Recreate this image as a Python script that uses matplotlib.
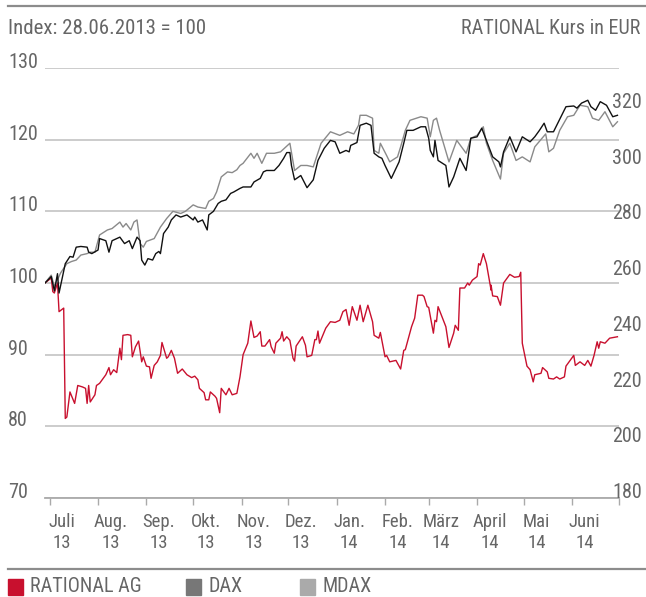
import matplotlib
matplotlib.use("Agg")
import matplotlib.pyplot as plt
import matplotlib.transforms as mtransforms
from matplotlib.patches import Rectangle
from matplotlib.lines import Line2D
import pandas as pd

plt.rcParams['font.family'] = ['Roboto Condensed', 'Liberation Sans Narrow', 'Roboto', 'DejaVu Sans']

# colours
C_RAT = "#c8102e"
C_DAX = "#111111"
C_MDAX = "#8a8a8a"
C_TXT = "#666666"
C_GRID = "#c8c8c8"

START = "2013-06-28"

# --- DATA (days since 28.06.2013, index 28.06.2013 = 100) ---
dax_days = [0, 4, 6, 8, 9, 13, 16, 18, 20, 23, 27, 28, 30, 34, 35, 39, 41, 43, 46, 48,
            51, 54, 56, 59, 61, 62, 64, 66, 69, 71, 73, 74, 76, 79, 81, 84, 87, 91, 95, 96,
            98, 101, 104, 105, 108, 111, 113, 116, 119, 121, 125, 127, 132, 134, 138, 140,
            142, 147, 150, 153, 155, 157, 158, 160, 164, 168, 172, 175, 179, 183, 186, 189,
            193, 195, 196, 200, 202, 206, 209, 211, 214, 216, 218, 222, 227, 230, 232, 236,
            241, 244, 246, 247, 249, 250, 252, 257, 259, 262, 266, 270, 273, 277, 280, 283,
            287, 291, 292, 294, 298, 302, 306, 311, 314, 317, 320, 322, 326, 334, 339, 341,
            344, 348, 350, 353, 356, 360, 364, 367]
dax_vals = [100.0, 100.9, 98.9, 101.3, 98.6, 102.7, 103.7, 103.6, 105.0, 105.1, 105.0, 104.3,
            104.1, 104.6, 106.2, 105.9, 104.3, 105.9, 106.2, 106.4, 105.5, 105.9, 104.8, 106.4,
            105.9, 103.2, 102.5, 103.4, 103.2, 104.1, 104.4, 104.1, 106.9, 107.8, 108.8, 109.5,
            109.2, 109.5, 108.8, 109.2, 108.5, 108.8, 107.4, 109.5, 110.0, 111.1, 111.4, 111.6,
            112.5, 112.7, 113.2, 113.4, 113.4, 114.1, 114.6, 115.5, 115.7, 115.7, 116.4, 117.4,
            118.2, 118.2, 116.4, 114.4, 115.0, 113.3, 114.4, 117.1, 118.8, 119.9, 119.7, 118.1,
            118.5, 118.3, 119.2, 119.6, 122.0, 122.3, 122.0, 118.1, 117.6, 117.4, 116.4, 114.6,
            116.9, 119.5, 121.3, 121.3, 121.8, 121.8, 120.2, 118.5, 117.6, 119.9, 117.1, 116.4,
            113.4, 114.8, 117.4, 115.7, 120.2, 120.4, 121.6, 119.9, 117.6, 116.9, 116.2, 118.3,
            120.4, 118.3, 120.4, 119.7, 120.4, 121.3, 122.3, 121.1, 121.1, 124.6, 124.7, 124.4,
            125.1, 125.5, 124.6, 124.1, 125.3, 124.8, 123.2, 123.4]

mdax_days = [0, 4, 6, 10, 14, 17, 20, 23, 27, 29, 32, 35, 40, 43, 48, 50, 52, 55, 57, 59,
             61, 63, 65, 70, 74, 78, 82, 87, 90, 95, 98, 103, 105, 108, 110, 113, 117, 120,
             123, 125, 127, 132, 134, 136, 139, 142, 147, 151, 157, 160, 164, 168, 172, 177,
             183, 189, 194, 198, 201, 202, 206, 210, 211, 214, 215, 219, 221, 226, 228, 231,
             234, 241, 245, 247, 249, 251, 253, 259, 264, 270, 273, 277, 281, 283, 287, 292,
             294, 298, 302, 306, 311, 314, 321, 323, 326, 330, 335, 339, 343, 348, 351, 355,
             359, 364, 367]
mdax_vals = [100.0, 101.1, 99.5, 101.4, 102.7, 103.0, 103.2, 103.9, 104.1, 104.3, 104.3, 106.7,
             107.4, 107.6, 108.5, 107.8, 108.3, 107.4, 108.5, 108.8, 105.5, 105.0, 105.8, 106.2,
             107.8, 109.0, 110.0, 109.7, 110.0, 110.9, 110.6, 110.4, 111.4, 111.8, 112.7, 114.8,
             115.5, 115.4, 115.8, 116.4, 116.7, 118.1, 117.4, 118.1, 116.7, 118.1, 118.1, 118.3,
             119.5, 115.7, 116.4, 116.4, 116.2, 119.5, 121.1, 120.6, 121.1, 120.8, 122.0, 123.4,
             123.4, 123.0, 118.5, 118.1, 119.5, 117.8, 116.9, 117.6, 119.0, 121.3, 122.7, 123.2,
             123.0, 120.4, 122.7, 123.0, 121.3, 116.9, 119.9, 118.1, 120.2, 120.6, 121.8, 119.5,
             117.1, 114.5, 118.1, 119.5, 117.1, 117.6, 116.9, 119.0, 120.8, 118.3, 118.8, 121.3,
             123.2, 123.4, 124.8, 124.6, 123.0, 122.7, 123.9, 121.8, 122.5]

rat_days = [0, 4, 5, 6, 8, 9, 12, 12, 13, 14, 16, 19, 21, 24, 26, 27, 28, 29, 32, 33, 35, 39,
            41, 42, 44, 46, 48, 49, 50, 53, 55, 56, 58, 60, 62, 63, 65, 67, 68, 70, 72, 74,
            75, 78, 79, 81, 83, 85, 88, 91, 94, 96, 98, 99, 102, 103, 105, 106, 109, 110, 112,
            113, 116, 118, 120, 123, 125, 127, 130, 132, 134, 136, 138, 139, 141, 144, 145,
            147, 148, 151, 152, 153, 155, 157, 159, 160, 161, 165, 167, 168, 171, 173, 174,
            175, 176, 180, 183, 186, 189, 191, 193, 195, 197, 200, 202, 204, 207, 210, 211,
            214, 215, 218, 219, 221, 225, 226, 228, 230, 231, 235, 237, 239, 242, 243, 245,
            246, 249, 250, 251, 252, 257, 259, 262, 263, 265, 266, 269, 271, 272, 274, 277,
            278, 279, 281, 283, 286, 286, 287, 290, 292, 294, 298, 301, 304, 305, 306, 309,
            311, 313, 314, 318, 319, 322, 323, 326, 328, 330, 333, 334, 339, 340, 343, 346,
            348, 350, 352, 354, 355, 356, 359, 362, 367]
rat_vals = [100.0, 100.7, 98.8, 98.6, 100.0, 96.0, 96.5, 96.3, 81.1, 81.3, 84.8, 83.2, 85.7,
            85.5, 85.3, 83.2, 85.7, 83.4, 84.4, 85.7, 86.0, 87.2, 88.2, 87.2, 87.9, 87.5, 90.9,
            89.3, 92.7, 92.8, 92.7, 89.7, 91.1, 91.9, 89.0, 89.7, 88.4, 88.3, 86.7, 88.5, 89.0,
            89.9, 91.7, 89.5, 89.7, 90.6, 89.5, 87.4, 88.0, 87.2, 86.8, 87.0, 86.5, 85.3, 84.7,
            83.7, 83.7, 84.8, 84.2, 83.9, 81.9, 85.3, 84.4, 85.3, 84.4, 84.6, 86.9, 90.0, 91.6,
            94.7, 92.4, 92.6, 93.2, 91.2, 91.2, 92.1, 91.1, 90.2, 91.6, 92.3, 93.2, 91.9, 92.5,
            92.0, 89.5, 89.1, 91.2, 92.5, 91.3, 89.7, 89.9, 92.1, 92.1, 93.3, 91.6, 93.7, 94.6,
            94.5, 94.8, 96.0, 96.3, 94.1, 96.7, 94.8, 96.9, 94.6, 96.9, 94.6, 92.7, 92.3, 93.1,
            89.7, 89.9, 89.0, 89.2, 88.8, 88.0, 90.6, 90.7, 93.9, 95.1, 98.3, 98.3, 98.1, 96.7,
            96.6, 93.0, 94.8, 94.6, 96.7, 93.9, 91.0, 93.0, 94.1, 93.4, 99.3, 99.3, 100.0, 99.7,
            100.4, 100.9, 102.7, 102.5, 104.1, 102.7, 99.0, 99.7, 98.2, 98.1, 96.9, 100.0, 101.2,
            100.8, 100.9, 101.5, 91.6, 88.4, 87.9, 86.2, 87.2, 87.4, 88.2, 87.6, 86.7, 86.6,
            86.9, 86.6, 86.9, 88.4, 89.9, 88.5, 89.0, 88.5, 89.2, 88.4, 89.9, 91.8, 90.9, 91.8,
            91.6, 92.3, 92.5]

index_ticks = [70, 80, 90, 100, 110, 120, 130]
price_ticks = [180, 200, 220, 240, 260, 280, 300, 320]
price_range = (180, 334.3)

month_starts = pd.date_range("2013-07-01", "2014-07-01", freq="MS")
month_labels = ["Juli\n13", "Aug.\n13", "Sep.\n13", "Okt.\n13", "Nov.\n13", "Dez.\n13",
                "Jan.\n14", "Feb.\n14", "März\n14", "April\n14", "Mai\n14", "Juni\n14"]

legend_items = [("RATIONAL AG", C_RAT), ("DAX", "#777777"), ("MDAX", "#aaaaaa")]


def to_dates(days):
    return pd.Timestamp(START) + pd.to_timedelta(days, unit="D")


# --- FIGURE ---
W, H = 646, 597
fig = plt.figure(figsize=(W / 100, H / 100), dpi=100)
ax = fig.add_axes([45 / W, 1 - 498 / H, (619 - 45) / W, (498 - 68) / H])

ax.plot(to_dates(rat_days), rat_vals, color=C_RAT, lw=1.0, zorder=3)
ax.plot(to_dates(mdax_days), mdax_vals, color=C_MDAX, lw=1.0, zorder=4)
ax.plot(to_dates(dax_days), dax_vals, color=C_DAX, lw=1.0, zorder=5)

ax.set_xlim(pd.Timestamp("2013-06-28"), pd.Timestamp("2014-07-01"))
ax.set_ylim(index_ticks[0], index_ticks[-1])
ax.set_yticks(index_ticks)
ax.tick_params(axis='y', length=0, labelleft=False)
ax.grid(axis='y', color=C_GRID, lw=1.3, zorder=0)

for s in ["top", "left", "right"]:
    ax.spines[s].set_visible(False)
ax.spines["bottom"].set_color("#aaaaaa")
ax.spines["bottom"].set_linewidth(1.3)

# month ticks and labels
ax.set_xticks(month_starts)
ax.tick_params(axis='x', which='major', length=5, color="#aaaaaa", width=1, labelbottom=False)
label_pos = [m + pd.Timedelta(days=8) for m in month_starts[:-1]]
ax.set_xticks(label_pos, minor=True)
ax.set_xticklabels(month_labels, minor=True, color=C_TXT, fontsize=13.5, linespacing=1.2)
ax.tick_params(axis='x', which='minor', length=0, pad=11)

# left index labels
trans_l = mtransforms.blended_transform_factory(fig.transFigure, ax.transData)
for v in index_ticks:
    ax.text(8 / W, v, str(v), transform=trans_l, va='baseline', ha='left',
            fontsize=14.5, color=C_TXT)

# right price axis
ax2 = ax.twinx()
ax2.set_ylim(*price_range)
ax2.set_yticks([])
for s in ax2.spines.values():
    s.set_visible(False)
trans_r = mtransforms.blended_transform_factory(fig.transFigure, ax2.transData)
for p in price_ticks:
    ax2.text(612 / W, p, str(p), transform=trans_r, va='baseline', ha='left',
             fontsize=14.5, color=C_TXT)

# header
fig.add_artist(Line2D([8 / W, 1], [1 - 6 / H] * 2, color="#8c8c8c", lw=1.6))
fig.text(8 / W, 1 - 28 / H, "Index: 28.06.2013 = 100", ha='left', va='center',
         fontsize=15, color=C_TXT)
fig.text(640 / W, 1 - 28 / H, "RATIONAL Kurs in EUR", ha='right', va='center',
         fontsize=14.5, color=C_TXT)

# footer legend
fig.add_artist(Line2D([8 / W, 1], [1 - 569 / H] * 2, color="#8c8c8c", lw=1.6))
legend_x = [8, 186, 300]
for (name, col), lx in zip(legend_items, legend_x):
    fig.add_artist(Rectangle((lx / W, 1 - 595 / H), 15 / W, 16 / H, color=col,
                             transform=fig.transFigure))
    fig.text((lx + 22) / W, 1 - 587 / H, name, ha='left', va='center',
             fontsize=14.5, color=C_TXT)

fig.savefig("out.png", dpi=100)
